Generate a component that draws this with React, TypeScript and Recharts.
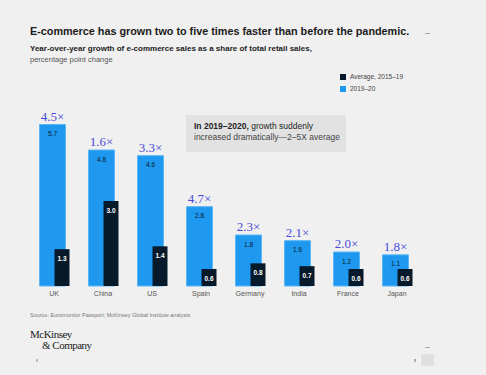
import { BarChart, Bar, XAxis, YAxis, LabelList } from 'recharts';

const countries = ['UK', 'China', 'US', 'Spain', 'Germany', 'India', 'France', 'Japan'];
const growth2019to20 = [5.7, 4.8, 4.6, 2.8, 1.8, 1.6, 1.2, 1.1];
const average2015to19 = [1.3, 3.0, 1.4, 0.6, 0.8, 0.7, 0.6, 0.6];
const multipliers = ['4.5×', '1.6×', '3.3×', '4.7×', '2.3×', '2.1×', '2.0×', '1.8×'];

const BLUE = '#1f98f0';
const NAVY = '#071a2b';
const PURPLE = '#4b4bd8';
const SANS = '"Liberation Sans", Arial, sans-serif';
const SERIF = '"Liberation Serif", "DejaVu Serif", serif';

const data = countries.map((c, i) => ({
  country: c,
  recent: growth2019to20[i],
  average: average2015to19[i],
  mult: multipliers[i],
}));

export default function App() {
  return (
    <div
      style={{
        position: 'fixed',
        left: 0,
        top: 0,
        width: 486,
        height: 375,
        background: '#f0f0f0',
        fontFamily: SANS,
        overflow: 'hidden',
      }}
    >
      <div style={{ position: 'absolute', left: 30, top: 25, fontSize: 10.8, fontWeight: 700, color: '#1a1a1a' }}>
        E-commerce has grown two to five times faster than before the pandemic.
      </div>
      <div style={{ position: 'absolute', left: 30, top: 44, fontSize: 8, fontWeight: 700, color: '#222' }}>
        Year-over-year growth of e-commerce sales as a share of total retail sales,
      </div>
      <div style={{ position: 'absolute', left: 30, top: 55, fontSize: 7.5, color: '#555' }}>
        percentage point change
      </div>

      {/* legend */}
      <div style={{ position: 'absolute', left: 340, top: 71, fontSize: 6.5, color: '#444', lineHeight: '12px' }}>
        <div style={{ display: 'flex', alignItems: 'center' }}>
          <span style={{ width: 6, height: 6, background: NAVY, marginRight: 4, display: 'inline-block' }} />
          Average, 2015–19
        </div>
        <div style={{ display: 'flex', alignItems: 'center' }}>
          <span style={{ width: 6, height: 6, background: BLUE, marginRight: 4, display: 'inline-block' }} />
          2019–20
        </div>
      </div>

      <div style={{ position: 'absolute', left: 0, top: 0 }}>
        <BarChart
          width={486}
          height={375}
          data={data}
          margin={{ top: 116, left: 29.5, right: 64.5, bottom: 69 }}
          barGap={-11}
        >
          <YAxis hide domain={[0, 6]} />
          <XAxis
            dataKey="country"
            axisLine={false}
            tickLine={false}
            tickSize={0}
            tickMargin={5}
            height={20}
            interval={0}
            tick={{ fontSize: 7, fill: '#555', fontFamily: SANS }}
          />
          <Bar dataKey="recent" barSize={26} fill={BLUE} stroke="#5bb6f5" strokeWidth={1} isAnimationActive={false}>
            <LabelList dataKey="mult" position="top" offset={4} style={{ fontSize: 13, fill: PURPLE, fontFamily: SERIF }} />
            <LabelList
              dataKey="recent"
              position="insideTop"
              offset={7}
              formatter={(v: number) => v.toFixed(1)}
              style={{ fontSize: 6.5, fill: NAVY, fontFamily: SANS }}
            />
          </Bar>
          <Bar dataKey="average" barSize={15} fill={NAVY} isAnimationActive={false}>
            <LabelList
              dataKey="average"
              position="insideTop"
              offset={7}
              formatter={(v: number) => v.toFixed(1)}
              style={{ fontSize: 6.5, fill: '#fff', fontFamily: SANS, fontWeight: 700 }}
            />
          </Bar>
        </BarChart>
      </div>

      {/* annotation */}
      <div
        style={{
          position: 'absolute',
          left: 186,
          top: 115,
          width: 160,
          height: 37,
          background: '#e2e2e2',
          boxSizing: 'border-box',
          padding: '6px 0 0 8px',
          fontSize: 8.5,
          lineHeight: '11px',
          color: '#222',
        }}
      >
        <b>In 2019–2020,</b> growth suddenly
        <br />
        <span style={{ color: '#444' }}>increased dramatically—2–5X average</span>
      </div>

      <div style={{ position: 'absolute', left: 30, top: 312, fontSize: 5.5, color: '#777' }}>
        Source: Euromonitor Passport; McKinsey Global Institute analysis
      </div>

      {/* logo */}
      <div style={{ position: 'absolute', left: 30, top: 329, fontFamily: SERIF, fontSize: 11, color: '#222', letterSpacing: -0.5, lineHeight: '11px' }}>
        <div>McKinsey</div>
        <div style={{ marginLeft: 12 }}>&amp; Company</div>
      </div>

      {/* window decorations */}
      <div style={{ position: 'absolute', left: 425, top: 33, width: 5, height: 1, background: '#aaa' }} />
      <div style={{ position: 'absolute', left: 425, top: 347, width: 5, height: 1, background: '#aaa' }} />
      <div style={{ position: 'absolute', left: 421, top: 354, width: 13, height: 12, background: '#e0e0e0' }} />
      <div style={{ position: 'absolute', left: 36, top: 359, width: 2, height: 3, background: '#bbb' }} />
      <div style={{ position: 'absolute', left: 414, top: 359, width: 2, height: 3, background: '#aaa' }} />
    </div>
  );
}
